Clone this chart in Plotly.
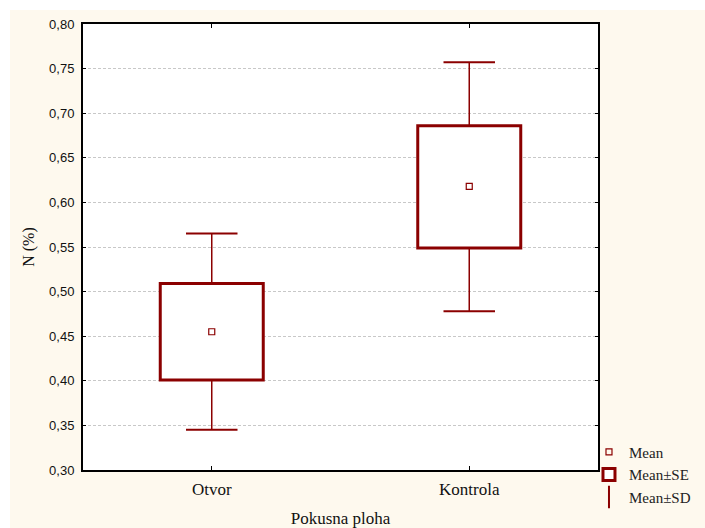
import plotly.graph_objects as go

# ---- data ----
categories = ["Otvor", "Kontrola"]
means = [0.455, 0.618]
se_low = [0.401, 0.549]
se_high = [0.509, 0.686]
sd_low = [0.345, 0.478]
sd_high = [0.565, 0.757]
y_ticks = [0.30, 0.35, 0.40, 0.45, 0.50, 0.55, 0.60, 0.65, 0.70, 0.75, 0.80]

RED = "#8B0000"
CREAM = "#FEF9EE"
BOX_HALF = 0.2
CAP_HALF = 0.1

xs = list(range(len(categories)))

fig = go.Figure()

# whiskers (vertical parts, from box edges to SD ends)
wx, wy = [], []
for i in xs:
    wx += [i, i, None, i, i, None]
    wy += [se_high[i], sd_high[i], None, se_low[i], sd_low[i], None]
fig.add_trace(go.Scatter(x=wx, y=wy, mode="lines", line=dict(color=RED, width=1.5),
                         showlegend=False, hoverinfo="skip"))
# caps
cx, cy = [], []
for i in xs:
    cx += [i - CAP_HALF, i + CAP_HALF, None, i - CAP_HALF, i + CAP_HALF, None]
    cy += [sd_high[i], sd_high[i], None, sd_low[i], sd_low[i], None]
fig.add_trace(go.Scatter(x=cx, y=cy, mode="lines", line=dict(color=RED, width=2),
                         showlegend=False, hoverinfo="skip"))

# boxes (Mean ± SE)
fig.add_trace(go.Bar(x=xs, y=[h - l for h, l in zip(se_high, se_low)], base=se_low,
                     width=2 * BOX_HALF, marker=dict(color="white", line=dict(color=RED, width=3)),
                     name="Mean±SE", legendrank=2))

# means
fig.add_trace(go.Scatter(x=xs, y=means, mode="markers", name="Mean", legendrank=1,
                         marker=dict(symbol="square-open", size=6, color=RED, line=dict(width=1.2))))

# legend entry for Mean±SD
fig.add_trace(go.Scatter(x=[None], y=[None], mode="markers", name="Mean±SD", legendrank=3,
                         marker=dict(symbol="line-ns-open", size=16, color=RED, line=dict(width=2, color=RED))))

serif = "Liberation Serif, Times New Roman, serif"
sans = "Liberation Sans, Arial, sans-serif"

L, T, R, B = 83, 24, 107, 58
PW, PH = 705 - L - R, 528 - T - B

fig.update_layout(
    width=705, height=528,
    margin=dict(l=L, r=R, t=T, b=B, autoexpand=False),
    paper_bgcolor=CREAM, plot_bgcolor="white",
    barmode="overlay",
    showlegend=True,
    legend=dict(x=0.9825, xanchor="left", y=-0.098, yanchor="bottom",
                bgcolor="rgba(0,0,0,0)", font=dict(family=serif, size=15, color="#222"),
                tracegroupgap=0, itemwidth=30),
    xaxis=dict(range=[-0.5, 1.5], tickvals=xs, ticktext=categories,
               showline=True, linecolor="black", linewidth=2, mirror="ticks",
               ticks="inside", ticklen=4, tickcolor="black", showgrid=False, zeroline=False,
               tickfont=dict(family=serif, size=17, color="#111"), ticklabelstandoff=3,
               title=dict(text="Pokusna ploha", font=dict(family=serif, size=17, color="#111"), standoff=17)),
    yaxis=dict(range=[0.30, 0.80], tickvals=y_ticks,
               ticktext=[f"{v:.2f}".replace(".", ",") for v in y_ticks],
               showline=True, linecolor="black", linewidth=2, mirror="ticks",
               ticks="inside", ticklen=3, tickcolor="black",
               showgrid=True, gridcolor="#C8C8C8", griddash="3px,2px", gridwidth=1, zeroline=False,
               tickfont=dict(family=sans, size=13, color="#111"), ticklabelstandoff=4,
               title=dict(text="N (%)", font=dict(family=serif, size=16, color="#111"), standoff=10)),
    shapes=[
        dict(type="rect", xref="paper", yref="paper", x0=-0.3, x1=1.4, y0=(PH + T - 10) / PH, y1=1.2,
             fillcolor="white", line=dict(width=0), layer="above"),
        dict(type="rect", xref="paper", yref="paper", x0=-0.3, x1=(10 - L) / PW, y0=-0.3, y1=1.2,
             fillcolor="white", line=dict(width=0), layer="above"),
    ],
)

fig.write_html("out.html", config={"displayModeBar": False},
               post_script="document.body.style.margin='0';document.body.style.overflow='hidden';")
